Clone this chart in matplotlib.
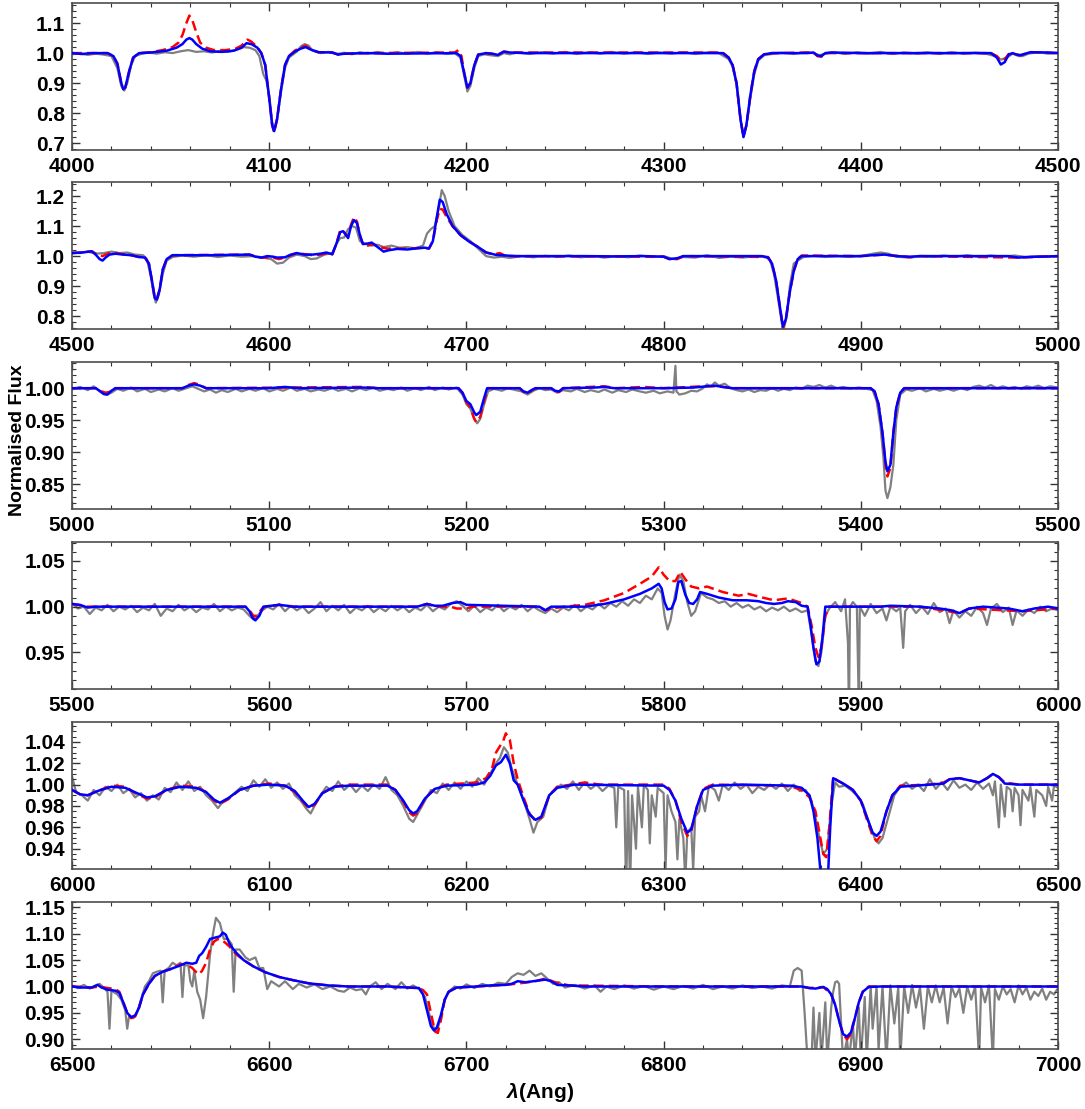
import matplotlib.pyplot as plt
from matplotlib.ticker import MultipleLocator, FormatStrFormatter

plt.rcParams['font.family'] = ['Liberation Sans', 'DejaVu Sans']
plt.rcParams['font.weight'] = 'bold'
plt.rcParams['mathtext.fontset'] = 'custom'
plt.rcParams['mathtext.it'] = 'Liberation Sans:italic'

# ---- panel 1: 4000-4500 ----
obs1 = [(4000,0.996),(4004,0.999),(4008,0.994),(4012,0.998),(4016,0.995),(4020,0.99),(4023,0.95),(4025,0.89),(4026.5,0.875),(4028,0.9),(4030,0.96),(4032,0.99),(4035,0.997),(4039,1.002),(4043,0.998),(4047,1.003),(4051,1.0),(4055,1.006),(4059,1.01),(4063,1.004),(4067,1.006),(4071,1.002),(4075,1.007),(4079,1.004),(4083,1.01),(4087,1.02),(4090,1.018),(4093,1.01),(4095,0.99),(4097,0.93),(4098.5,0.91),(4100,0.86),(4101.5,0.77),(4102.5,0.74),(4104,0.78),(4106,0.87),(4108,0.95),(4110,0.985),(4112,0.995),(4114,1.005),(4116,1.022),(4118,1.03),(4120,1.025),(4122,1.008),(4126,1.0),(4130,1.004),(4134,0.997),(4138,1.001),(4142,0.996),(4146,1.003),(4150,0.998),(4155,1.004),(4160,0.997),(4165,1.003),(4170,0.998),(4175,1.004),(4180,0.998),(4185,1.003),(4190,0.997),(4194,1.0),(4197,0.985),(4199,0.92),(4200.5,0.872),(4202,0.89),(4204,0.95),(4206,0.99),(4209,0.996),(4212,0.993),(4216,0.99),(4219,1.0),(4222,0.996),(4226,1.002),(4232,0.997),(4238,1.003),(4244,0.998),(4250,1.004),(4256,0.997),(4262,1.003),(4268,0.998),(4274,1.004),(4280,0.998),(4286,1.003),(4292,0.997),(4298,1.002),(4304,0.998),(4310,1.003),(4316,0.997),(4322,1.002),(4328,1.0),(4333,0.98),(4335,0.955),(4337,0.895),(4339,0.775),(4340.5,0.722),(4342,0.76),(4344,0.85),(4346,0.93),(4348,0.975),(4351,0.993),(4355,0.997),(4360,1.002),(4366,0.997),(4372,1.003),(4376,1.0),(4379,0.993),(4382,0.998),(4386,1.003),(4392,0.997),(4398,1.003),(4404,0.998),(4410,1.004),(4416,0.997),(4422,1.002),(4428,0.998),(4434,1.003),(4440,0.997),(4446,1.003),(4452,0.998),(4458,1.002),(4464,0.997),(4468,0.99),(4471,0.978),(4474,0.985),(4477,0.998),(4480,0.99),(4482,0.99),(4485,0.998),(4490,1.003),(4495,0.998),(4500,1.002)]
red1 = [(4000,1.0),(4018,1.0),(4021,0.99),(4023,0.965),(4025,0.9),(4026,0.88),(4027,0.885),(4029,0.94),(4031,0.985),(4034,1.0),(4040,1.003),(4046,1.01),(4051,1.02),(4054,1.035),(4056,1.06),(4058,1.1),(4059.5,1.125),(4061,1.11),(4063,1.07),(4065,1.035),(4068,1.018),(4072,1.01),(4078,1.01),(4083,1.015),(4086,1.025),(4089,1.045),(4091,1.038),(4094,1.02),(4096,1.0),(4098,0.96),(4100,0.85),(4101.5,0.76),(4102.5,0.735),(4104,0.78),(4106,0.88),(4108,0.96),(4110,0.99),(4113,1.008),(4116,1.02),(4118.5,1.025),(4121,1.012),(4125,1.003),(4132,1.002),(4135,0.995),(4138,0.998),(4150,1.0),(4194,1.002),(4196,1.01),(4197.5,0.99),(4199,0.93),(4200.5,0.885),(4202,0.9),(4204,0.96),(4206,0.995),(4210,1.0),(4216,0.995),(4219,1.005),(4222,1.002),(4330,1.002),(4333,0.985),(4335,0.96),(4337,0.9),(4339,0.78),(4340.5,0.722),(4342,0.76),(4344,0.86),(4346,0.94),(4348,0.98),(4351,0.996),(4355,1.0),(4376,1.002),(4378,0.99),(4380,0.988),(4382,1.0),(4466,1.0),(4469,0.99),(4471,0.975),(4473,0.98),(4475,0.997),(4479,0.995),(4481,0.993),(4483,0.997),(4486,1.003),(4500,1.0)]
blue1 = [(4000,1.0),(4005,0.997),(4010,1.0),(4018,1.0),(4021,0.99),(4023,0.965),(4025,0.9),(4026,0.88),(4027,0.885),(4029,0.94),(4031,0.985),(4034,1.0),(4040,1.002),(4048,1.008),(4053,1.018),(4056,1.03),(4058,1.045),(4059.5,1.05),(4061,1.045),(4063,1.03),(4066,1.015),(4070,1.006),(4076,1.004),(4082,1.008),(4086,1.018),(4088.5,1.033),(4091,1.03),(4094,1.018),(4096,1.0),(4098,0.96),(4100,0.85),(4101.5,0.76),(4102.5,0.74),(4104,0.78),(4106,0.88),(4108,0.96),(4110,0.99),(4113,1.005),(4116,1.015),(4118.5,1.02),(4121,1.012),(4125,1.003),(4132,1.002),(4135,0.995),(4138,0.998),(4150,1.0),(4160,0.998),(4195,1.0),(4197,0.99),(4199,0.93),(4200.5,0.885),(4202,0.9),(4204,0.96),(4206,0.995),(4210,1.0),(4213,0.998),(4216,0.994),(4219,1.005),(4222,1.002),(4230,1.0),(4330,1.0),(4333,0.985),(4335,0.96),(4337,0.9),(4339,0.78),(4340.5,0.72),(4342,0.76),(4344,0.86),(4346,0.94),(4348,0.98),(4351,0.996),(4355,1.0),(4373,1.0),(4376,1.002),(4378,0.992),(4380,0.99),(4382,1.0),(4385,1.002),(4400,1.0),(4440,1.0),(4466,1.0),(4469,0.985),(4471,0.962),(4473,0.97),(4475,0.995),(4477,1.0),(4479,0.995),(4481,0.993),(4483,0.997),(4486,1.003),(4495,1.002),(4500,1.0)]

# ---- panel 2: 4500-5000 ----
obs2 = [(4500,1.012),(4504,1.01),(4508,1.015),(4512,1.008),(4516,1.01),(4520,1.015),(4524,1.01),(4528,1.012),(4532,1.005),(4536,1.003),(4538,0.99),(4540,0.93),(4541.5,0.87),(4542.5,0.845),(4544,0.87),(4546,0.94),(4548,0.985),(4551,0.997),(4556,1.002),(4562,0.998),(4568,1.003),(4574,0.997),(4580,1.002),(4586,0.998),(4592,1.0),(4597,0.995),(4601,0.99),(4604,0.975),(4607,0.978),(4610,0.995),(4614,1.005),(4618,1.0),(4621,0.99),(4624,0.992),(4628,1.005),(4632,1.01),(4634,1.04),(4636,1.06),(4638,1.062),(4640,1.09),(4642,1.1),(4644,1.095),(4646,1.05),(4649,1.04),(4652,1.035),(4655,1.038),(4658,1.03),(4662,1.035),(4666,1.028),(4670,1.03),(4674,1.026),(4678,1.035),(4680,1.075),(4682,1.09),(4684,1.1),(4686,1.16),(4687.5,1.22),(4689,1.2),(4691,1.15),(4694,1.1),(4698,1.07),(4702,1.05),(4706,1.025),(4710,1.0),(4714,0.995),(4718,0.998),(4722,0.994),(4728,1.0),(4734,0.996),(4740,1.001),(4746,0.997),(4752,1.002),(4758,0.996),(4764,1.0),(4770,0.995),(4776,1.0),(4782,0.996),(4788,1.002),(4794,0.997),(4800,1.0),(4805,0.99),(4810,0.997),(4816,0.995),(4822,1.003),(4828,0.994),(4834,0.998),(4840,0.995),(4846,0.999),(4852,0.997),(4854,0.985),(4856,0.94),(4858,0.86),(4860,0.775),(4861,0.76),(4862.5,0.8),(4864,0.9),(4866,0.975),(4868,0.985),(4871,0.997),(4876,1.001),(4882,0.997),(4888,1.0),(4894,0.997),(4900,1.0),(4906,1.008),(4910,1.012),(4914,1.008),(4918,0.998),(4924,0.995),(4930,0.999),(4936,0.997),(4942,1.002),(4948,0.998),(4954,1.003),(4960,0.997),(4966,1.002),(4972,0.998),(4978,1.002),(4984,0.997),(4990,1.0),(4995,0.997),(5000,1.0)]
red2 = [(4500,1.01),(4505,1.012),(4510,1.016),(4513,1.005),(4515.5,1.0),(4518,1.008),(4521,1.012),(4526,1.006),(4530,1.003),(4534,0.997),(4537,0.995),(4539,0.975),(4540.5,0.92),(4542,0.86),(4543,0.855),(4544.5,0.89),(4546,0.955),(4548,0.99),(4551,1.003),(4590,1.005),(4596,0.995),(4602,0.995),(4605,0.99),(4609,0.998),(4614,1.01),(4622,1.003),(4626,1.005),(4630,1.01),(4632,1.006),(4634,1.04),(4636,1.085),(4637.5,1.085),(4639,1.07),(4640,1.065),(4641.5,1.105),(4643,1.13),(4644.5,1.115),(4646,1.07),(4647.5,1.04),(4650,1.035),(4653,1.04),(4656,1.03),(4660,1.025),(4670,1.025),(4679,1.028),(4681,1.025),(4683,1.05),(4685,1.12),(4686.5,1.158),(4688,1.155),(4690,1.13),(4693,1.1),(4697,1.07),(4701,1.05),(4706,1.03),(4710,1.012),(4714,1.006),(4717,1.01),(4720,1.0),(4800,0.998),(4803,0.99),(4807,0.99),(4810,1.0),(4853,0.997),(4855,0.975),(4857,0.92),(4859,0.83),(4860.5,0.76),(4862,0.79),(4864,0.88),(4866,0.95),(4868,0.99),(4870,1.002),(4900,1.0),(4912,1.005),(4920,1.0),(4925,0.996),(4930,1.0),(4980,0.995),(5000,1.0)]
blue2 = [(4500,1.01),(4505,1.012),(4510,1.016),(4512,1.005),(4514,0.99),(4515.5,0.985),(4517,0.995),(4519,1.005),(4522,1.008),(4526,1.005),(4530,1.003),(4534,0.997),(4537,0.995),(4539,0.975),(4540.5,0.92),(4542,0.86),(4543,0.855),(4544.5,0.89),(4546,0.955),(4548,0.99),(4551,1.003),(4570,1.003),(4590,1.005),(4593,0.998),(4596,0.995),(4599,1.0),(4602,0.998),(4604,0.995),(4608,0.996),(4611,1.005),(4614,1.01),(4618,1.005),(4622,1.005),(4626,1.008),(4629,1.012),(4632,1.006),(4634,1.04),(4636,1.08),(4637.5,1.083),(4639,1.07),(4640,1.06),(4641.5,1.1),(4643,1.12),(4644.5,1.11),(4646,1.07),(4647.5,1.04),(4650,1.042),(4652,1.045),(4655,1.03),(4658,1.015),(4661,1.02),(4665,1.024),(4670,1.022),(4675,1.026),(4679,1.028),(4681,1.025),(4683,1.05),(4685,1.13),(4686.5,1.188),(4688,1.18),(4690,1.14),(4693,1.1),(4697,1.07),(4701,1.05),(4706,1.03),(4710,1.012),(4715,1.004),(4725,1.0),(4760,1.0),(4775,0.999),(4790,1.0),(4800,0.998),(4803,0.99),(4807,0.993),(4810,1.0),(4850,1.0),(4853,0.995),(4855,0.975),(4857,0.92),(4859,0.83),(4860.5,0.765),(4862,0.79),(4864,0.88),(4866,0.95),(4868,0.99),(4870,1.0),(4900,1.0),(4906,1.003),(4912,1.005),(4918,1.0),(4925,0.998),(4930,1.0),(4975,1.0),(4980,0.995),(4985,0.997),(5000,1.0)]

# ---- panel 3: 5000-5500 ----
obs3 = [(5000,0.998),(5004,1.002),(5008,0.997),(5011,1.003),(5014,0.995),(5017,0.99),(5020,0.993),(5023,0.999),(5026,0.996),(5030,1.001),(5033,0.995),(5037,0.999),(5040,0.994),(5044,0.998),(5047,0.995),(5051,1.0),(5054,0.996),(5058,1.0),(5061,1.003),(5064,0.999),(5067,0.995),(5070,0.998),(5073,0.993),(5076,0.997),(5079,0.994),(5083,0.999),(5086,0.995),(5090,0.999),(5093,0.996),(5097,1.0),(5100,0.995),(5104,0.999),(5107,0.996),(5111,1.001),(5114,0.996),(5118,0.999),(5121,0.995),(5125,0.998),(5128,0.996),(5132,1.0),(5135,0.996),(5139,0.999),(5142,0.995),(5146,1.0),(5149,0.997),(5153,1.001),(5156,0.996),(5160,0.999),(5163,0.997),(5167,1.001),(5170,0.996),(5174,1.0),(5177,0.997),(5181,1.002),(5184,0.997),(5188,1.001),(5191,0.998),(5195,1.001),(5198,0.99),(5200,0.975),(5202,0.968),(5204,0.952),(5205.5,0.945),(5207,0.952),(5209,0.975),(5211,0.995),(5214,0.999),(5218,0.996),(5221,1.0),(5225,0.997),(5228,0.995),(5231,0.99),(5234,0.996),(5237,1.0),(5240,0.997),(5243,0.998),(5246,0.993),(5249,0.997),(5253,0.995),(5256,0.999),(5260,0.994),(5263,0.997),(5267,0.994),(5270,0.998),(5274,0.993),(5277,0.997),(5281,0.994),(5284,0.998),(5288,0.995),(5291,0.993),(5295,0.996),(5298,0.992),(5302,0.995),(5305,0.993),(5306,1.035),(5306.5,0.995),(5308,0.99),(5311,0.992),(5314,0.996),(5317,0.995),(5320,1.0),(5322,1.006),(5324,1.003),(5326,1.009),(5328,1.004),(5331,1.007),(5334,1.0),(5337,0.997),(5340,0.995),(5343,0.998),(5346,0.994),(5349,0.997),(5352,0.996),(5355,1.0),(5358,0.996),(5361,0.999),(5364,0.997),(5367,1.001),(5370,0.999),(5373,1.004),(5376,1.002),(5379,1.005),(5382,1.001),(5385,1.004),(5388,1.0),(5391,1.002),(5395,0.999),(5399,1.001),(5403,0.999),(5406,0.997),(5408,0.98),(5410,0.94),(5411.5,0.89),(5412.5,0.84),(5413.5,0.828),(5415,0.845),(5416.5,0.88),(5418,0.95),(5420,0.99),(5423,0.998),(5426,0.996),(5430,1.0),(5433,0.995),(5437,0.999),(5440,0.996),(5444,0.999),(5447,0.996),(5451,1.0),(5454,0.997),(5457,1.002),(5460,1.004),(5463,1.001),(5466,1.005),(5469,1.0),(5472,1.003),(5475,1.0),(5478,1.002),(5481,0.999),(5484,1.003),(5487,1.001),(5490,1.004),(5493,1.0),(5496,1.003),(5500,1.001)]
red3 = [(5000,1.0),(5013,1.0),(5015,0.995),(5017,0.993),(5019,0.994),(5021,1.0),(5040,1.0),(5056,1.0),(5059,1.005),(5062,1.008),(5065,1.005),(5068,1.0),(5148,1.002),(5155,1.0),(5196,1.0),(5198,0.993),(5200,0.978),(5202,0.97),(5204,0.952),(5205,0.947),(5207,0.955),(5209,0.98),(5211,1.0),(5227,1.0),(5229,0.994),(5231,0.992),(5233,0.996),(5235,1.0),(5243,1.0),(5245,0.995),(5247,0.994),(5249,1.0),(5270,1.003),(5276,1.0),(5290,1.002),(5300,1.0),(5320,1.003),(5326,1.003),(5330,1.002),(5335,1.0),(5405,1.0),(5407,0.995),(5409,0.975),(5411,0.93),(5412.5,0.88),(5413.5,0.862),(5415,0.875),(5416.5,0.93),(5418,0.97),(5420,0.993),(5422,1.0),(5500,1.0)]
blue3 = [(5000,1.0),(5012,1.0),(5014,0.996),(5016,0.991),(5018,0.99),(5020,0.996),(5022,1.0),(5040,1.0),(5056,1.0),(5059,1.004),(5062,1.006),(5065,1.004),(5068,1.0),(5100,1.0),(5108,1.002),(5115,1.0),(5148,1.001),(5155,1.0),(5196,1.0),(5198,0.993),(5200,0.98),(5202,0.975),(5204,0.962),(5205,0.958),(5207,0.963),(5209,0.985),(5210.5,1.0),(5227,1.0),(5229,0.995),(5231,0.993),(5233,0.997),(5235,1.0),(5243,1.0),(5245,0.996),(5247,0.995),(5249,1.0),(5265,1.001),(5270,1.002),(5275,1.0),(5300,1.0),(5315,1.001),(5322,1.003),(5326,1.004),(5330,1.002),(5335,1.0),(5405,1.0),(5407,0.995),(5409,0.975),(5411,0.93),(5412.5,0.885),(5413.5,0.87),(5415,0.88),(5416.5,0.93),(5418,0.97),(5420,0.993),(5422,1.0),(5500,1.0)]

# ---- panel 4: 5500-6000 ----
obs4 = [(5500,1.004),(5503,0.998),(5506,1.0),(5509,0.992),(5512,0.999),(5515,0.996),(5518,1.002),(5521,0.995),(5524,1.0),(5527,0.997),(5530,1.001),(5533,0.994),(5536,0.999),(5539,0.996),(5542,1.003),(5545,0.99),(5548,0.998),(5551,0.995),(5554,1.002),(5557,0.996),(5560,1.0),(5563,0.994),(5566,0.999),(5569,0.997),(5572,1.003),(5575,0.995),(5578,1.0),(5581,0.996),(5584,0.999),(5587,0.997),(5590,0.99),(5592,0.986),(5594,0.99),(5596,0.995),(5599,1.0),(5602,0.997),(5605,1.003),(5608,0.995),(5611,1.001),(5614,0.996),(5617,1.0),(5620,0.993),(5623,0.998),(5626,1.005),(5629,0.995),(5632,1.001),(5635,0.996),(5638,1.002),(5641,0.993),(5644,0.999),(5647,0.996),(5650,1.001),(5653,0.994),(5656,0.999),(5659,0.995),(5662,1.001),(5665,0.996),(5668,1.0),(5671,0.994),(5674,0.999),(5677,0.996),(5680,1.002),(5683,0.995),(5686,1.0),(5689,0.997),(5692,1.003),(5695,1.006),(5698,1.001),(5701,0.995),(5704,1.001),(5707,0.994),(5710,0.999),(5713,0.996),(5716,1.002),(5719,0.995),(5722,1.0),(5725,0.997),(5728,1.002),(5731,0.995),(5734,1.0),(5737,0.996),(5740,0.993),(5743,0.998),(5746,0.994),(5749,0.999),(5752,0.996),(5755,1.002),(5758,0.995),(5761,1.0),(5764,0.997),(5767,1.003),(5770,0.998),(5773,1.004),(5776,1.0),(5779,1.006),(5782,1.001),(5785,1.008),(5788,1.004),(5791,1.012),(5794,1.008),(5797,1.02),(5799,1.015),(5800.5,0.99),(5802,0.975),(5803.5,0.985),(5806,1.015),(5808,1.035),(5810,1.028),(5812,1.005),(5814,0.99),(5816,0.995),(5819,1.015),(5822,1.01),(5825,1.008),(5828,1.004),(5831,1.006),(5834,1.0),(5837,1.004),(5840,0.999),(5843,1.002),(5846,0.997),(5849,1.0),(5852,0.995),(5855,0.999),(5858,0.996),(5861,1.0),(5864,0.995),(5867,0.998),(5870,0.994),(5873,0.996),(5875,0.97),(5877,0.94),(5878.5,0.935),(5880,0.95),(5882,0.99),(5884,0.998),(5887,1.005),(5890,0.995),(5892,1.008),(5893.5,0.96),(5894,0.88),(5894.5,1.0),(5896,1.005),(5898,1.0),(5899,0.89),(5899.5,1.0),(5902,0.99),(5905,1.003),(5908,0.993),(5911,0.998),(5913,0.985),(5915,1.0),(5918,0.995),(5920,0.999),(5921.5,0.955),(5922.5,0.995),(5925,1.002),(5928,0.993),(5931,1.0),(5934,0.992),(5937,1.004),(5940,0.994),(5943,0.998),(5945,0.982),(5947,0.996),(5950,0.988),(5953,0.995),(5956,0.99),(5959,1.0),(5962,0.993),(5964,0.98),(5966,0.998),(5969,1.003),(5972,0.994),(5975,0.999),(5977,0.98),(5979,0.996),(5982,0.99),(5985,0.997),(5988,0.993),(5991,1.0),(5994,0.995),(5997,0.998),(6000,0.996)]
red4 = [(5500,1.003),(5508,1.0),(5588,1.0),(5590,0.996),(5592,0.99),(5594,0.99),(5596,0.997),(5598,1.0),(5605,1.002),(5612,1.0),(5675,1.0),(5680,1.003),(5685,1.0),(5692,1.0),(5695,0.998),(5700,0.998),(5703,1.0),(5737,1.0),(5740,0.996),(5743,0.998),(5750,1.0),(5760,1.002),(5770,1.007),(5780,1.015),(5788,1.025),(5794,1.033),(5797.5,1.043),(5800,1.035),(5803,1.028),(5806,1.028),(5808.5,1.038),(5811,1.03),(5814,1.022),(5818,1.02),(5822,1.022),(5830,1.016),(5838,1.012),(5843,1.014),(5850,1.01),(5856,1.007),(5863,1.009),(5870,1.004),(5873,1.0),(5875,0.98),(5877,0.955),(5878.5,0.945),(5880,0.955),(5882,0.99),(5884,1.0),(5912,1.0),(5930,1.0),(5950,0.993),(5955,0.998),(5982,0.995),(6000,0.998)]
blue4 = [(5500,1.003),(5504,1.002),(5508,0.999),(5512,1.0),(5588,1.0),(5590,0.995),(5591.5,0.988),(5593,0.985),(5595,0.99),(5597,1.0),(5601,1.001),(5605,1.002),(5609,1.001),(5612,1.0),(5675,1.0),(5680,1.003),(5684,1.001),(5688,1.001),(5693,1.004),(5697,1.005),(5700,1.002),(5737,1.0),(5740,0.996),(5743,1.0),(5760,1.0),(5770,1.003),(5780,1.008),(5788,1.014),(5794,1.02),(5797.5,1.025),(5799,1.02),(5800.5,1.005),(5802,0.997),(5804,0.998),(5806,1.008),(5807.5,1.027),(5809,1.028),(5811,1.013),(5813,1.004),(5815,1.003),(5817,1.008),(5818.5,1.016),(5822,1.014),(5828,1.01),(5835,1.007),(5842,1.007),(5848,1.006),(5852,1.004),(5856,1.003),(5860,1.004),(5863,1.006),(5867,1.005),(5870,1.001),(5873,1.0),(5874.5,0.98),(5876,0.955),(5877.5,0.937),(5879,0.94),(5880.5,0.965),(5882,1.0),(5900,1.0),(5910,1.0),(5915,1.001),(5930,1.0),(5940,0.998),(5946,0.996),(5950,0.993),(5955,0.998),(5962,1.0),(5975,0.998),(5982,0.995),(5988,0.998),(5995,1.0),(6000,0.998)]

# ---- panel 5: 6000-6500 ----
obs5 = [(6000,1.008),(6002,0.993),(6005,0.99),(6008,0.985),(6011,0.995),(6014,0.99),(6017,0.998),(6020,0.994),(6023,1.0),(6026,0.992),(6029,0.996),(6032,0.988),(6035,0.992),(6038,0.985),(6041,0.99),(6044,0.986),(6047,0.997),(6050,0.993),(6053,1.002),(6056,0.995),(6059,1.003),(6062,0.994),(6065,0.998),(6068,0.99),(6071,0.985),(6074,0.978),(6077,0.985),(6080,0.988),(6083,0.993),(6086,0.998),(6089,0.994),(6092,1.004),(6095,0.998),(6098,1.005),(6101,0.997),(6104,1.002),(6107,0.996),(6110,1.001),(6113,0.99),(6116,0.985),(6119,0.977),(6121,0.973),(6123,0.98),(6126,0.99),(6129,0.998),(6132,0.994),(6135,1.003),(6138,0.995),(6141,1.0),(6144,0.993),(6147,0.999),(6150,0.994),(6153,1.0),(6156,0.996),(6159,1.007),(6162,0.995),(6165,0.99),(6168,0.98),(6171,0.968),(6173,0.965),(6176,0.975),(6179,0.985),(6182,0.995),(6185,0.992),(6188,1.001),(6191,0.995),(6194,1.002),(6197,0.996),(6200,1.003),(6203,0.998),(6206,1.006),(6209,1.0),(6212,1.01),(6215,1.02),(6217,1.025),(6219,1.035),(6221,1.03),(6223,1.015),(6226,1.0),(6229,0.985),(6232,0.968),(6234,0.955),(6236,0.965),(6239,0.97),(6242,0.99),(6245,0.995),(6248,1.0),(6251,0.996),(6254,1.003),(6257,0.995),(6260,1.002),(6263,0.996),(6266,1.0),(6269,0.994),(6272,0.999),(6275,0.997),(6276,0.96),(6277,0.998),(6280,0.995),(6281,0.9),(6282,0.994),(6283,0.9),(6284,0.99),(6286,0.94),(6287,0.998),(6289,0.96),(6290,1.0),(6292,0.995),(6293,0.945),(6294,0.99),(6296,0.97),(6297,0.997),(6300,0.992),(6301,0.92),(6302,0.99),(6304,0.975),(6306,0.965),(6307,0.93),(6308,0.968),(6310,0.95),(6311,0.91),(6312,0.955),(6314,0.96),(6315,0.92),(6316,0.97),(6318,0.975),(6319,0.99),(6321,0.975),(6323,0.999),(6326,0.995),(6328,0.985),(6330,1.0),(6333,0.995),(6336,1.002),(6339,0.996),(6342,1.0),(6345,0.992),(6348,0.998),(6351,0.995),(6354,1.0),(6357,0.996),(6360,1.001),(6363,0.994),(6366,1.0),(6369,0.994),(6372,0.995),(6375,0.985),(6377,0.97),(6379,0.95),(6381,0.935),(6383,0.94),(6385,0.98),(6387,1.002),(6389,0.998),(6392,0.999),(6395,0.995),(6398,0.99),(6401,0.982),(6404,0.965),(6407,0.95),(6409,0.945),(6411,0.95),(6414,0.97),(6417,0.99),(6420,0.998),(6423,1.002),(6426,0.996),(6429,1.0),(6432,0.994),(6435,1.005),(6438,0.996),(6441,1.002),(6444,0.995),(6447,1.004),(6450,0.997),(6453,1.0),(6456,0.995),(6459,1.002),(6462,0.996),(6465,1.001),(6467,0.99),(6468,1.003),(6470,0.96),(6471,1.0),(6473,0.97),(6474,0.998),(6476,0.995),(6477,0.975),(6478,0.997),(6480,0.99),(6481,0.962),(6482,0.995),(6485,0.985),(6486,0.998),(6488,0.97),(6489,0.995),(6492,0.99),(6494,0.98),(6495,0.998),(6497,0.985),(6498,0.999),(6500,0.997)]
red5 = [(6000,0.995),(6004,0.991),(6008,0.99),(6013,0.994),(6020,0.999),(6027,0.998),(6033,0.991),(6038,0.987),(6042,0.988),(6048,0.995),(6055,0.999),(6063,0.998),(6068,0.993),(6072,0.985),(6075,0.982),(6079,0.986),(6085,0.995),(6092,0.999),(6100,1.001),(6108,0.999),(6113,0.993),(6117,0.984),(6120,0.978),(6123,0.981),(6127,0.992),(6133,0.998),(6140,1.0),(6160,1.0),(6164,0.995),(6168,0.984),(6171,0.974),(6173,0.971),(6175,0.973),(6179,0.987),(6184,0.996),(6190,1.0),(6205,1.002),(6210,1.006),(6213,1.015),(6215,1.03),(6217,1.036),(6218.5,1.04),(6220,1.048),(6222,1.042),(6224,1.02),(6226,1.005),(6229,0.988),(6232,0.973),(6235,0.966),(6238,0.969),(6242,0.99),(6246,0.998),(6260,1.002),(6268,1.0),(6300,1.0),(6303,0.996),(6306,0.985),(6309,0.965),(6312,0.952),(6314,0.956),(6317,0.98),(6320,0.996),(6325,1.0),(6360,0.999),(6365,0.998),(6370,0.995),(6374,0.988),(6377,0.975),(6379,0.955),(6381,0.935),(6382.5,0.932),(6384,0.96),(6386,1.007),(6388,1.004),(6392,1.0),(6396,0.995),(6400,0.985),(6403,0.968),(6406,0.952),(6408,0.947),(6410,0.952),(6413,0.975),(6416,0.99),(6420,0.999),(6435,1.0),(6442,1.002),(6445,1.005),(6450,1.006),(6455,1.004),(6460,1.002),(6464,1.006),(6467,1.01),(6470,1.007),(6473,1.002),(6480,1.0),(6500,1.0)]
blue5 = [(6000,0.995),(6004,0.991),(6008,0.99),(6013,0.994),(6020,0.998),(6027,0.997),(6033,0.992),(6038,0.988),(6042,0.989),(6048,0.995),(6055,0.998),(6063,0.997),(6068,0.993),(6072,0.986),(6075,0.983),(6079,0.987),(6085,0.995),(6092,0.999),(6100,1.0),(6108,0.999),(6113,0.994),(6117,0.985),(6120,0.979),(6123,0.982),(6127,0.992),(6133,0.998),(6140,0.999),(6160,0.999),(6164,0.995),(6168,0.985),(6171,0.976),(6173,0.973),(6175,0.975),(6179,0.987),(6184,0.996),(6190,0.999),(6205,1.0),(6209,1.002),(6212,1.008),(6215,1.018),(6217.5,1.021),(6220,1.028),(6222,1.02),(6224,1.004),(6226,1.0),(6229,0.985),(6232,0.972),(6235,0.967),(6238,0.97),(6242,0.99),(6246,0.997),(6255,1.0),(6300,0.999),(6303,0.995),(6306,0.985),(6309,0.968),(6312,0.955),(6314,0.958),(6317,0.98),(6320,0.995),(6325,0.999),(6340,1.0),(6365,0.999),(6370,0.997),(6374,0.99),(6376,0.975),(6378,0.95),(6380,0.91),(6383,0.9),(6384.5,0.96),(6386,1.006),(6388,1.004),(6392,1.0),(6396,0.995),(6400,0.985),(6403,0.97),(6406,0.955),(6408,0.952),(6410,0.956),(6413,0.975),(6416,0.99),(6420,0.998),(6435,1.0),(6442,1.001),(6445,1.005),(6450,1.006),(6455,1.004),(6460,1.002),(6464,1.006),(6467,1.01),(6470,1.007),(6473,1.001),(6480,1.0),(6500,1.0)]

# ---- panel 6: 6500-7000 ----
obs6 = [(6500,1.002),(6503,0.997),(6506,1.003),(6509,0.996),(6512,1.002),(6514,1.005),(6516,0.998),(6518,0.99),(6519,0.92),(6520,0.992),(6523,0.985),(6525,0.975),(6527,0.955),(6528,0.92),(6529,0.945),(6531,0.94),(6533,0.95),(6535,0.975),(6537,1.0),(6539,1.01),(6541,1.025),(6543,1.028),(6545,1.03),(6546,0.97),(6547,1.03),(6549,1.035),(6551,1.045),(6553,1.04),(6555,1.045),(6556,0.98),(6557,1.04),(6559,1.04),(6560,1.01),(6561,1.0),(6562,1.03),(6563.5,0.99),(6565,0.975),(6566.5,0.94),(6568,0.98),(6570,1.06),(6571.5,1.1),(6573,1.13),(6575,1.12),(6577,1.09),(6579,1.09),(6581,1.08),(6582,0.99),(6583,1.07),(6585,1.07),(6588,1.055),(6590,1.05),(6593,1.055),(6595,1.035),(6597,1.035),(6599,0.995),(6601,1.01),(6605,1.0),(6608,1.01),(6612,0.995),(6615,1.005),(6619,0.998),(6623,1.004),(6627,0.995),(6631,1.0),(6635,0.992),(6638,0.99),(6641,0.998),(6644,0.993),(6647,0.995),(6649,0.985),(6651,1.0),(6654,1.008),(6657,0.995),(6660,1.005),(6664,0.995),(6667,1.008),(6670,0.996),(6673,1.002),(6676,0.995),(6679,0.98),(6681,0.95),(6683,0.925),(6685,0.915),(6687,0.94),(6689,0.975),(6691,0.99),(6694,1.0),(6697,0.996),(6700,1.004),(6704,0.997),(6708,1.005),(6712,1.0),(6716,1.007),(6720,1.005),(6723,1.018),(6726,1.025),(6729,1.022),(6732,1.03),(6735,1.02),(6738,1.025),(6741,1.015),(6744,1.005),(6747,1.008),(6750,0.998),(6755,1.003),(6760,0.996),(6765,1.002),(6768,0.99),(6771,1.0),(6775,0.995),(6780,1.002),(6785,0.996),(6790,1.001),(6795,0.994),(6800,1.0),(6805,0.995),(6810,1.001),(6815,0.996),(6820,1.003),(6825,0.995),(6830,1.0),(6835,0.996),(6840,1.002),(6845,0.997),(6850,1.0),(6855,0.996),(6860,1.002),(6864,1.0),(6866,1.03),(6868,1.035),(6870,1.03),(6871.5,0.95),(6873,0.86),(6875,0.86),(6876,0.96),(6877,0.86),(6879,0.95),(6880,0.86),(6882,0.97),(6883,0.86),(6885,0.96),(6886,0.99),(6887,1.008),(6888,1.01),(6889,1.005),(6890,0.93),(6891,0.86),(6893,0.9),(6894,0.86),(6896,0.93),(6897,0.86),(6899,0.96),(6900,0.86),(6902,0.98),(6903,0.86),(6905,1.0),(6906,0.92),(6908,1.0),(6909,0.88),(6911,1.0),(6913,0.86),(6915,1.002),(6917,0.93),(6919,0.998),(6920,0.86),(6922,1.0),(6924,0.95),(6926,1.003),(6928,0.96),(6930,0.998),(6932,0.92),(6934,1.0),(6936,0.97),(6938,1.002),(6940,0.97),(6942,0.998),(6944,0.93),(6946,1.0),(6948,0.98),(6950,0.996),(6952,0.95),(6954,1.0),(6956,0.975),(6958,1.0),(6960,0.86),(6961,0.998),(6963,0.97),(6965,1.002),(6967,0.86),(6968,0.995),(6970,0.975),(6972,1.0),(6974,0.985),(6976,0.995),(6978,0.97),(6980,1.002),(6982,0.985),(6984,0.998),(6986,0.975),(6988,0.99),(6990,0.982),(6992,0.996),(6994,0.975),(6996,0.99),(6998,0.985),(7000,0.997)]
red6 = [(6500,1.0),(6510,0.998),(6514,1.0),(6518,0.997),(6522,0.995),(6524,0.99),(6526,0.97),(6528,0.95),(6530,0.94),(6532,0.943),(6534,0.96),(6536,0.985),(6539,1.005),(6542,1.02),(6546,1.028),(6550,1.033),(6555,1.042),(6558,1.042),(6561,1.035),(6563,1.027),(6564.5,1.023),(6566,1.03),(6568,1.045),(6570,1.07),(6572,1.085),(6574,1.09),(6576,1.088),(6578,1.082),(6580,1.075),(6583,1.062),(6587,1.05),(6592,1.038),(6598,1.027),(6605,1.018),(6612,1.012),(6620,1.006),(6630,1.002),(6640,1.0),(6660,1.0),(6676,0.997),(6678,0.993),(6680,0.985),(6682,0.95),(6684,0.915),(6685.5,0.912),(6687,0.935),(6689,0.975),(6691,0.99),(6695,0.998),(6705,1.0),(6715,1.002),(6725,1.005),(6735,1.01),(6740,1.015),(6745,1.008),(6752,1.002),(6800,1.0),(6870,1.0),(6874,0.997),(6881,0.999),(6885,0.985),(6887,0.965),(6889,0.935),(6891,0.91),(6893,0.9),(6895,0.91),(6897,0.94),(6899,0.97),(6901,0.99),(6904,1.0),(7000,1.0)]
blue6 = [(6500,1.0),(6504,0.998),(6510,0.998),(6513,1.003),(6515,0.998),(6518,0.994),(6522,0.992),(6524,0.988),(6526,0.97),(6528,0.95),(6530,0.942),(6532,0.945),(6534,0.96),(6536,0.985),(6539,1.005),(6542,1.02),(6546,1.028),(6550,1.033),(6555,1.04),(6558,1.045),(6561,1.043),(6563,1.045),(6564.5,1.058),(6566,1.063),(6568,1.075),(6570,1.09),(6573,1.093),(6575,1.095),(6576.5,1.102),(6578,1.098),(6580,1.08),(6583,1.065),(6587,1.05),(6592,1.038),(6598,1.027),(6605,1.018),(6612,1.012),(6620,1.006),(6630,1.002),(6640,1.0),(6660,1.0),(6676,0.997),(6678,0.985),(6680,0.955),(6682,0.925),(6683.5,0.917),(6685,0.922),(6687,0.945),(6689,0.975),(6691,0.99),(6695,0.998),(6705,1.0),(6712,1.002),(6720,1.003),(6723,1.005),(6726,1.01),(6730,1.008),(6736,1.011),(6740,1.013),(6743,1.01),(6746,1.003),(6752,1.002),(6760,1.0),(6800,1.0),(6870,1.0),(6874,0.997),(6877,0.996),(6881,0.999),(6883,0.995),(6885,0.985),(6887,0.965),(6889,0.935),(6891,0.91),(6893,0.905),(6895,0.913),(6897,0.94),(6899,0.97),(6901,0.99),(6904,0.999),(6910,1.0),(7000,1.0)]

wave_ranges = [(4000, 4500), (4500, 5000), (5000, 5500), (5500, 6000), (6000, 6500), (6500, 7000)]
observed = [obs1, obs2, obs3, obs4, obs5, obs6]
model_red = [red1, red2, red3, red4, red5, red6]
model_blue = [blue1, blue2, blue3, blue4, blue5, blue6]

# y axis setup per panel: limits, major step, minor step, label format
ylims = [(0.677, 1.167), (0.757, 1.247), (0.811, 1.041), (0.91, 1.0707), (0.921, 1.0586), (0.8816, 1.16)]
ysteps = [(0.1, 0.02, '%.1f'), (0.1, 0.02, '%.1f'), (0.05, 0.01, '%.2f'),
          (0.05, 0.01, '%.2f'), (0.02, 0.005, '%.2f'), (0.05, 0.01, '%.2f')]

W, H = 1085, 1109
fig = plt.figure(figsize=(W / 100, H / 100), dpi=100)
tops = [3, 182, 362, 542, 722, 902]
left, right, ph = 72, 1058, 147

for i in range(6):
    ax = fig.add_axes([left / W, 1 - (tops[i] + ph) / H, (right - left) / W, ph / H])
    ow, of = zip(*observed[i])
    rw, rf = zip(*model_red[i])
    bw, bf = zip(*model_blue[i])
    ax.plot(ow, of, color='#808080', lw=1.6, zorder=1)
    ax.plot(rw, rf, color='#ff0000', lw=1.8, ls=(0, (4, 2)), zorder=2)
    ax.plot(bw, bf, color='#0000ff', lw=1.8, zorder=3)
    ax.set_xlim(*wave_ranges[i])
    ax.set_ylim(*ylims[i])
    ax.xaxis.set_major_locator(MultipleLocator(100))
    ax.xaxis.set_minor_locator(MultipleLocator(20))
    major, minor, fmt = ysteps[i]
    ax.yaxis.set_major_locator(MultipleLocator(major))
    ax.yaxis.set_minor_locator(MultipleLocator(minor))
    ax.yaxis.set_major_formatter(FormatStrFormatter(fmt))
    ax.tick_params(which='both', direction='in', top=True, right=True, color='0.2',
                   labelsize=15, pad=5)
    ax.tick_params(which='major', length=6, width=1)
    ax.tick_params(which='minor', length=3, width=0.8)
    for s in ax.spines.values():
        s.set_color('0.3')
        s.set_linewidth(1.2)
    for lab in ax.get_xticklabels() + ax.get_yticklabels():
        lab.set_fontweight('bold')

fig.text(18 / W, 1 - 440 / H, 'Normalised Flux', rotation=90, ha='center', va='center',
         fontsize=14, fontweight='bold')
fig.text(540 / W, 1 - 1092 / H, r'$\mathit{\lambda}$(Ang)', ha='center', va='center',
         fontsize=15, fontweight='bold')

fig.savefig('out.png', dpi=100)
